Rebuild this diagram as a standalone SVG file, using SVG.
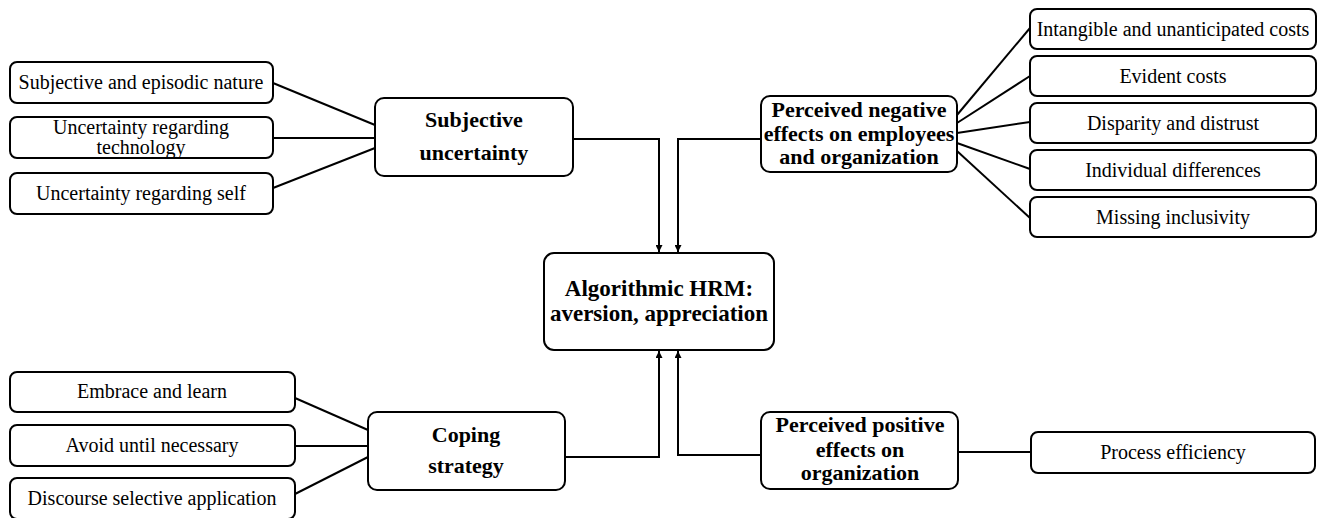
<svg xmlns="http://www.w3.org/2000/svg" width="1319" height="518" viewBox="0 0 1319 518">
  <style>
    .box { fill: #ffffff; stroke: #000000; stroke-width: 2; }
    .line { fill: none; stroke: #000000; stroke-width: 2; }
    .t { font-family: "Liberation Serif", "Times New Roman", serif; font-size: 20px; fill: #000000; text-anchor: middle; }
    .b { font-family: "Liberation Serif", "Times New Roman", serif; font-size: 22px; font-weight: bold; fill: #000000; text-anchor: middle; }
    .c { font-family: "Liberation Serif", "Times New Roman", serif; font-size: 23px; font-weight: bold; fill: #000000; text-anchor: middle; }
  </style>
  <defs>
    <marker id="arrow" viewBox="0 0 10 10" refX="10" refY="5" markerWidth="7" markerHeight="7" markerUnits="userSpaceOnUse" orient="auto">
      <path d="M0,0 L10,5 L0,10 z" fill="#000000"/>
    </marker>
  </defs>
  <rect width="1319" height="518" fill="#ffffff"/>

  <!-- connectors -->
  <g id="connectors">
    <!-- subjective uncertainty branch -->
    <line class="line" x1="273" y1="83" x2="375" y2="125"/>
    <line class="line" x1="273" y1="138" x2="375" y2="138"/>
    <line class="line" x1="273" y1="188" x2="375" y2="148"/>
    <!-- negative effects branch -->
    <line class="line" x1="957" y1="115" x2="1030" y2="28"/>
    <line class="line" x1="957" y1="123" x2="1030" y2="76"/>
    <line class="line" x1="957" y1="133" x2="1030" y2="122"/>
    <line class="line" x1="957" y1="143" x2="1030" y2="169"/>
    <line class="line" x1="957" y1="151" x2="1030" y2="218"/>
    <!-- coping branch -->
    <line class="line" x1="295" y1="398" x2="368" y2="430"/>
    <line class="line" x1="295" y1="446" x2="368" y2="446"/>
    <line class="line" x1="295" y1="494" x2="368" y2="457"/>
    <!-- positive effects branch -->
    <line class="line" x1="958" y1="452" x2="1031" y2="452"/>
    <!-- links into the central node -->
    <path class="line" d="M573,139 H659 V252" marker-end="url(#arrow)"/>
    <path class="line" d="M761,139 H678 V252" marker-end="url(#arrow)"/>
    <path class="line" d="M565,457 H659 V351" marker-end="url(#arrow)"/>
    <path class="line" d="M761,455 H678 V351" marker-end="url(#arrow)"/>
  </g>

  <!-- central node -->
  <g id="central">
    <rect class="box" x="544" y="253" width="230" height="97" rx="10"/>
    <text class="c" x="659" y="296">Algorithmic HRM:</text>
    <text class="c" x="659" y="321">aversion, appreciation</text>
  </g>

  <!-- subjective uncertainty -->
  <g id="subjective-uncertainty">
    <rect class="box" x="375" y="98" width="198" height="78" rx="9"/>
    <text class="b" x="474" y="127">Subjective</text>
    <text class="b" x="474" y="160">uncertainty</text>
  </g>
  <g id="su-episodic">
    <rect class="box" x="10" y="62" width="263" height="41" rx="7"/>
    <text class="t" x="141" y="89">Subjective and episodic nature</text>
  </g>
  <g id="su-technology">
    <rect class="box" x="10" y="117" width="263" height="41" rx="7"/>
    <text class="t" x="141" y="134">Uncertainty regarding</text>
    <text class="t" x="141" y="154">technology</text>
  </g>
  <g id="su-self">
    <rect class="box" x="10" y="173" width="263" height="41" rx="7"/>
    <text class="t" x="141" y="200">Uncertainty regarding self</text>
  </g>

  <!-- perceived negative effects -->
  <g id="negative-effects">
    <rect class="box" x="761" y="96" width="196" height="76" rx="9"/>
    <text class="b" x="859" y="117">Perceived negative</text>
    <text class="b" x="859" y="141">effects on employees</text>
    <text class="b" x="859" y="164">and organization</text>
  </g>
  <g id="ne-intangible">
    <rect class="box" x="1030" y="9" width="286" height="40" rx="7"/>
    <text class="t" x="1173" y="36">Intangible and unanticipated costs</text>
  </g>
  <g id="ne-evident">
    <rect class="box" x="1030" y="56" width="286" height="40" rx="7"/>
    <text class="t" x="1173" y="83">Evident costs</text>
  </g>
  <g id="ne-disparity">
    <rect class="box" x="1030" y="103" width="286" height="40" rx="7"/>
    <text class="t" x="1173" y="130">Disparity and distrust</text>
  </g>
  <g id="ne-individual">
    <rect class="box" x="1030" y="150" width="286" height="40" rx="7"/>
    <text class="t" x="1173" y="177">Individual differences</text>
  </g>
  <g id="ne-inclusivity">
    <rect class="box" x="1030" y="197" width="286" height="40" rx="7"/>
    <text class="t" x="1173" y="224">Missing inclusivity</text>
  </g>

  <!-- coping strategy -->
  <g id="coping-strategy">
    <rect class="box" x="368" y="412" width="197" height="78" rx="9"/>
    <text class="b" x="466" y="442">Coping</text>
    <text class="b" x="466" y="473">strategy</text>
  </g>
  <g id="cs-embrace">
    <rect class="box" x="10" y="372" width="285" height="40" rx="7"/>
    <text class="t" x="152" y="398">Embrace and learn</text>
  </g>
  <g id="cs-avoid">
    <rect class="box" x="10" y="425" width="285" height="41" rx="7"/>
    <text class="t" x="152" y="452">Avoid until necessary</text>
  </g>
  <g id="cs-discourse">
    <rect class="box" x="10" y="478" width="285" height="41" rx="7"/>
    <text class="t" x="152" y="505">Discourse selective application</text>
  </g>

  <!-- perceived positive effects -->
  <g id="positive-effects">
    <rect class="box" x="761" y="412" width="197" height="77" rx="9"/>
    <text class="b" x="860" y="432">Perceived positive</text>
    <text class="b" x="860" y="457">effects on</text>
    <text class="b" x="860" y="480">organization</text>
  </g>
  <g id="pe-efficiency">
    <rect class="box" x="1031" y="432" width="284" height="41" rx="7"/>
    <text class="t" x="1173" y="459">Process efficiency</text>
  </g>
</svg>
